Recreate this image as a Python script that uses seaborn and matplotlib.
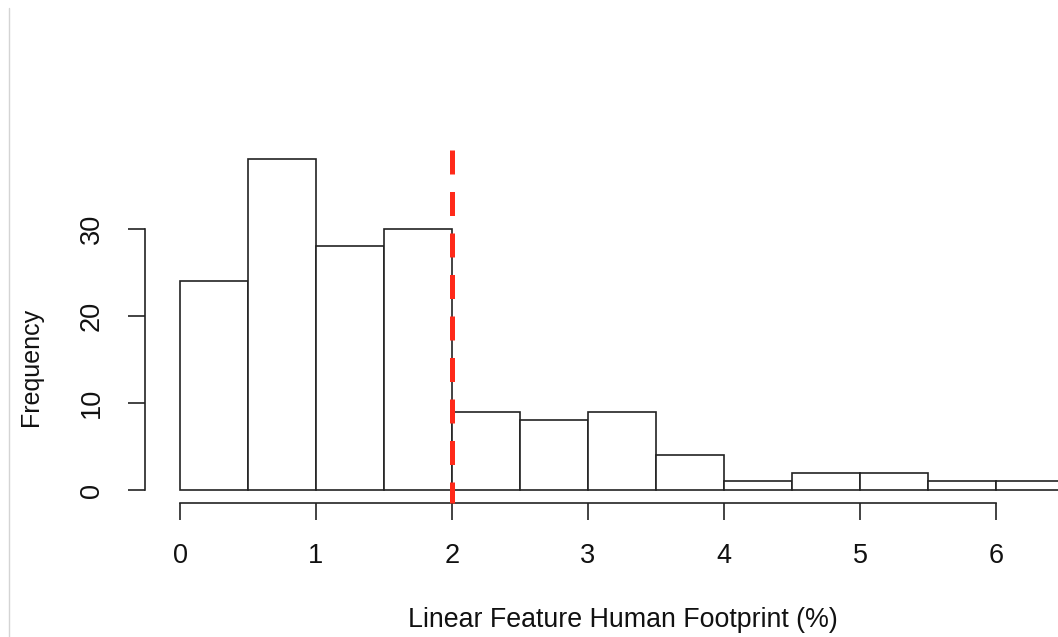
import numpy as np
import matplotlib
matplotlib.use("Agg")
import matplotlib.pyplot as plt
import seaborn as sns
from matplotlib.lines import Line2D

# bin edges and counts
bin_edges = [0, 0.5, 1, 1.5, 2, 2.5, 3, 3.5, 4, 4.5, 5, 5.5, 6, 6.5]
counts = [24, 38, 28, 30, 9, 8, 9, 4, 1, 2, 2, 1, 1]
x_ticks = [0, 1, 2, 3, 4, 5, 6]
y_ticks = [0, 10, 20, 30]
threshold = 2

sns.set_style("white")
plt.rcParams['font.family'] = ['Liberation Sans', 'DejaVu Sans']

W, H = 1058, 637
fig = plt.figure(figsize=(W / 100, H / 100), dpi=100)
# axes in pixel terms: left 145, right 1100 (past the edge), top 100, bottom 503
ax = fig.add_axes([145 / W, (H - 503) / H, (1100 - 145) / W, (503 - 100) / H])

centers = [(a + b) / 2 for a, b in zip(bin_edges[:-1], bin_edges[1:])]
sns.histplot(x=centers, weights=counts, bins=bin_edges, ax=ax,
             color="white", edgecolor="#222222", linewidth=1.2, alpha=1)

ax.set_xlim((145 - 180) / 136, (1100 - 180) / 136)
ax.set_ylim(-(503 - 490) / 8.7, (490 - 100) / 8.7)

# red dashed threshold line
ax.plot([threshold, threshold], [39.1, -(503 - 490) / 8.7], color="#ff2a1a",
        lw=3.6, linestyle=(0, (4.8, 3.5)), clip_on=False, zorder=5)

for s in ["top", "right"]:
    ax.spines[s].set_visible(False)
ax.spines["left"].set_bounds(0, 30)
ax.spines["bottom"].set_bounds(0, 6)
for s in ["left", "bottom"]:
    ax.spines[s].set_color("#222222")
    ax.spines[s].set_linewidth(1.2)

ax.set_xticks(x_ticks)
ax.set_yticks(y_ticks)
ax.tick_params(axis="both", direction="out", length=12, width=1.2, color="#222222",
               labelsize=19.5, labelcolor="#111111")
ax.tick_params(axis="x", pad=17, bottom=True)
ax.tick_params(axis="y", pad=17, left=True)
for lab in ax.get_yticklabels():
    lab.set_rotation(90)
    lab.set_va("center")

ax.set_xlabel("Linear Feature Human Footprint (%)", fontsize=19.3, color="#111111")
ax.set_ylabel("Frequency", fontsize=18, color="#111111")
ax.xaxis.set_label_coords(0.5, -(620 - 503) / 403)
ax.yaxis.set_label_coords((31 - 145) / 955, (503 - 367) / 403)
ax.xaxis.label.set_va("center")
ax.yaxis.label.set_va("center")

# thin grey border at the left of the screenshot
fig.add_artist(Line2D([8.5 / W, 8.5 / W], [0, 1 - 8 / H], color="#d4d4d4", lw=1))

fig.savefig("out.png", dpi=100)
